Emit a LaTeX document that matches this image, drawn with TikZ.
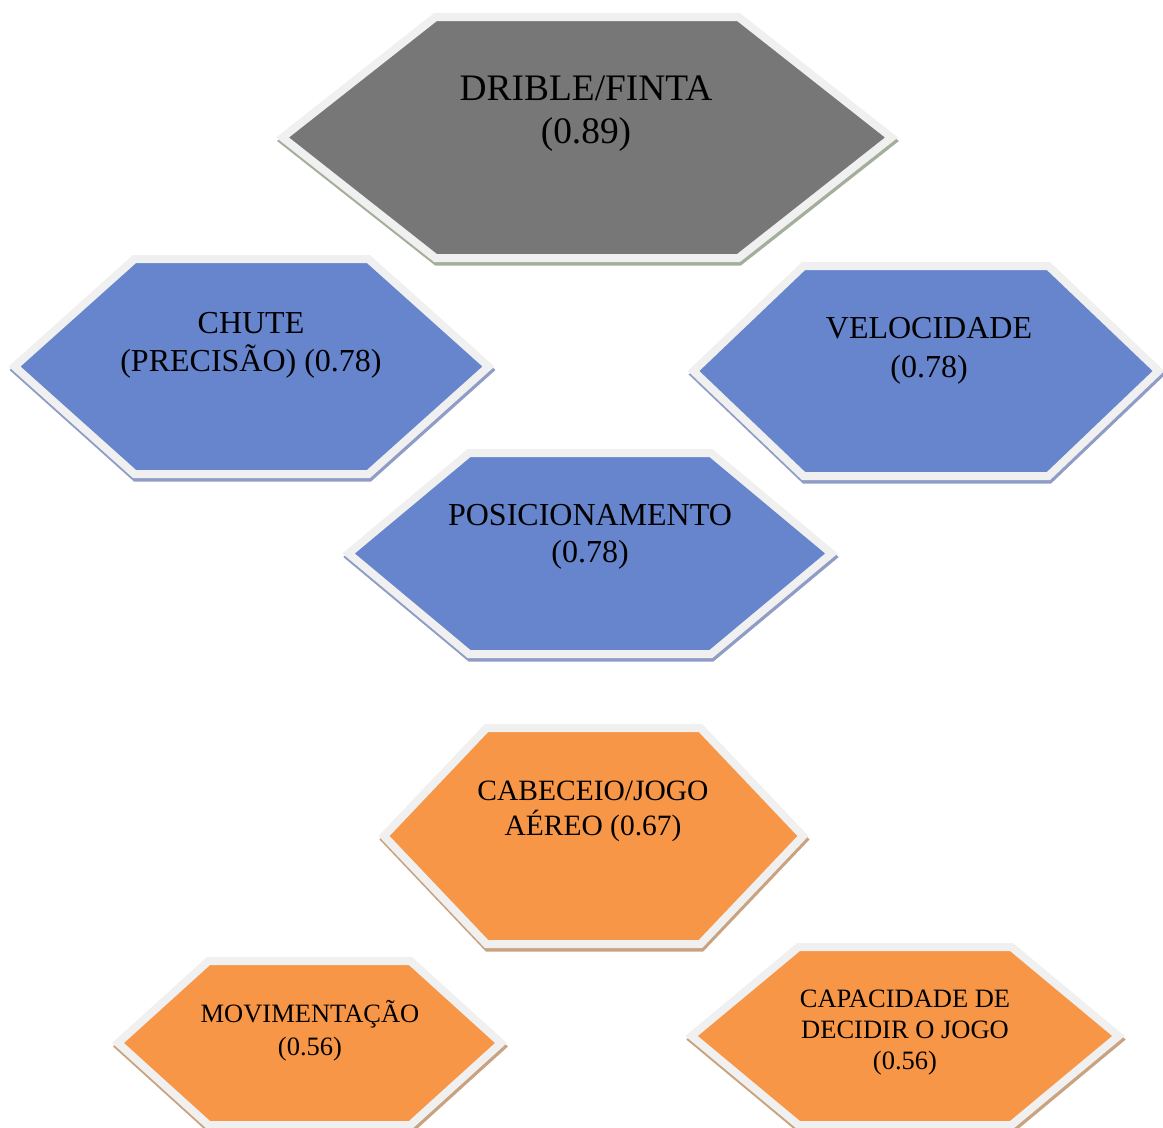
\documentclass[tikz,border=0pt]{standalone}
\usepackage{fontspec}
\setmainfont{Liberation Serif}

\definecolor{hexgray}{HTML}{777777}
\definecolor{hexblue}{HTML}{6685CD}
\definecolor{hexorange}{HTML}{F79646}
\definecolor{hexrim}{HTML}{F0F0F0}
\definecolor{shgray}{HTML}{A3AE9B}
\definecolor{shblue}{HTML}{8E9CC6}
\definecolor{shorange}{HTML}{C9A27F}

% Elongated hexagon with a light rim and a thin drop shadow.
% #1,#2 centre; #3 half-width to the side points; #4 half-width of the flat top;
% #5 half-height; #6 fill colour; #7 shadow colour
\newcommand\hexagonplate[7]{%
  \path[draw=#7, fill=#7, line width=8pt, shift={(1,3.5)}]
    ({#1-#3+6.5},#2) -- ({#1-#4+1.5},{#2-#5+4}) -- ({#1+#4-1.5},{#2-#5+4})
    -- ({#1+#3-6.5},#2) -- ({#1+#4-1.5},{#2+#5-4}) -- ({#1-#4+1.5},{#2+#5-4}) -- cycle;
  \path[draw=hexrim, fill=#6, line width=8pt]
    ({#1-#3+6.5},#2) -- ({#1-#4+1.5},{#2-#5+4}) -- ({#1+#4-1.5},{#2-#5+4})
    -- ({#1+#3-6.5},#2) -- ({#1+#4-1.5},{#2+#5-4}) -- ({#1-#4+1.5},{#2+#5-4}) -- cycle;
}

\tikzset{hextext/.style={align=center, inner sep=0pt, text=black}}

\begin{document}
\begin{tikzpicture}[x=1pt, y=-1pt, line join=miter]
  \useasboundingbox (0,0) rectangle (1163,1128);

  % plates
  \hexagonplate{587}{137.5}{311}{153}{124.5}{hexgray}{shgray}
  \hexagonplate{251.5}{366.5}{243.5}{118.5}{111.5}{hexblue}{shblue}
  \hexagonplate{926}{371}{239}{124}{109}{hexblue}{shblue}
  \hexagonplate{590}{553.5}{248}{122.5}{104.5}{hexblue}{shblue}
  \hexagonplate{593.5}{836}{216}{108.5}{112}{hexorange}{shorange}
  \hexagonplate{309.5}{1043}{198}{102.5}{86}{hexorange}{shorange}
  \hexagonplate{905}{1036}{220}{108}{93}{hexorange}{shorange}

  % labels
  \node[hextext, font=\fontsize{37.4}{43}\selectfont] (drible) at (586,113.5)
    {DRIBLE/FINTA\\(0.89)};
  \node[hextext, font=\fontsize{32}{38}\selectfont] (chute) at (251,345)
    {CHUTE\\(PRECISÃO) (0.78)};
  \node[hextext, font=\fontsize{32}{39}\selectfont] (velocidade) at (929,350.5)
    {VELOCIDADE\\(0.78)};
  \node[hextext, font=\fontsize{32}{37}\selectfont] (posicionamento) at (590,536.5)
    {POSICIONAMENTO\\(0.78)};
  \node[hextext, font=\fontsize{29.5}{35}\selectfont] (cabeceio) at (593,811.5)
    {CABECEIO/JOGO\\AÉREO (0.67)};
  \node[hextext, font=\fontsize{26.5}{33}\selectfont] (movimentacao) at (310,1031)
    {MOVIMENTAÇÃO\\(0.56)};
  \node[hextext, font=\fontsize{26.5}{31}\selectfont] (capacidade) at (905,1033)
    {CAPACIDADE DE\\DECIDIR O JOGO\\(0.56)};
\end{tikzpicture}
\end{document}
